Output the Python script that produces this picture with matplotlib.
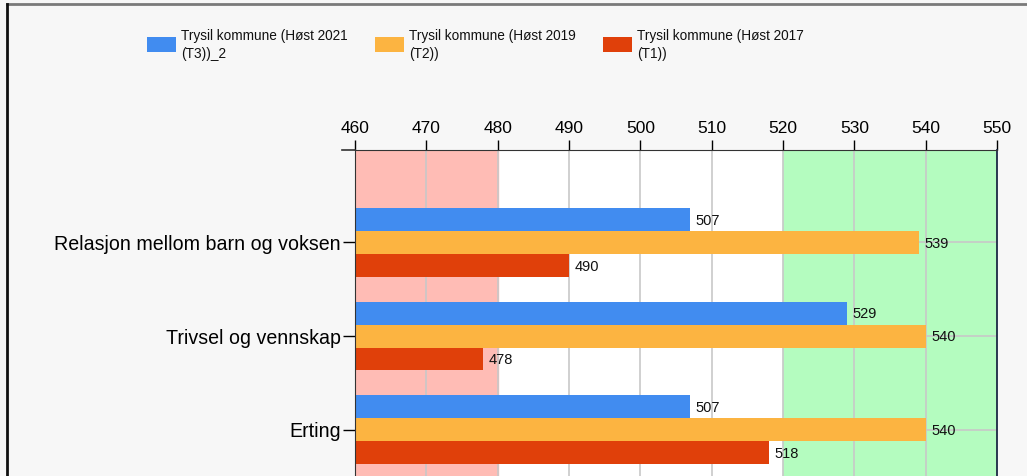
import numpy as np
import matplotlib
matplotlib.use('Agg')
import matplotlib.pyplot as plt
from matplotlib.patches import Rectangle
from matplotlib.lines import Line2D

plt.rcParams['font.family'] = ['Liberation Sans', 'DejaVu Sans']

categories = ["Relasjon mellom barn og voksen", "Trivsel og vennskap", "Erting"]
series_names = ["Trysil kommune (Høst 2021\n(T3))_2",
                "Trysil kommune (Høst 2019\n(T2))",
                "Trysil kommune (Høst 2017\n(T1))"]
t3_2021 = [507, 529, 507]
t2_2019 = [539, 540, 540]
t1_2017 = [490, 478, 518]
colors = ['#418cf0', '#fcb441', '#e0400a']
x_ticks = [460, 470, 480, 490, 500, 510, 520, 530, 540, 550]

W, H = 1027, 476
fig = plt.figure(figsize=(W / 100, H / 100), dpi=100)
fig.patch.set_facecolor('#f7f7f7')

# axes placed in pixels (bottom runs off the figure, like the cropped original)
left, right, top, bottom = 355, 997, 150, 486
ax = fig.add_axes([left / W, (H - bottom) / H, (right - left) / W, (bottom - top) / H])
ax.set_facecolor('white')

# low / high zones
ax.axvspan(460, 480, color='#ffbcb5', zorder=0)
ax.axvspan(520, 550, color='#b4fcbf', zorder=0)

ypos = np.arange(len(categories))
h = 0.245
for i, (vals, c) in enumerate(zip([t3_2021, t2_2019, t1_2017], colors)):
    bars = ax.barh(ypos + (i - 1) * h, np.array(vals) - 460, left=460, height=h,
                   color=c, zorder=2)
    for b, v in zip(bars, vals):
        ax.annotate(str(v), (v, b.get_y() + b.get_height() / 2),
                    xytext=(4, -1), textcoords='offset points',
                    va='center', ha='left', fontsize=10.5, color='#111111', zorder=3)

ax.set_xlim(460, 550)
ax.set_ylim(2.6, -0.985)
ax.set_xticks(x_ticks)
ax.set_yticks(ypos)
ax.set_yticklabels(categories)
ax.xaxis.tick_top()
ax.grid(True, color='#c8c8c8', linewidth=1.2, zorder=1)
ax.set_axisbelow(True)
ax.tick_params(axis='x', direction='out', length=7, width=1, labelsize=12.5, pad=3)
ax.tick_params(axis='y', direction='out', length=9, width=1, labelsize=14.1, pad=1)
for s in ['top', 'left']:
    ax.spines[s].set_color('#333333')
ax.spines['right'].set_color('#1a2a44')
ax.spines['right'].set_linewidth(1.3)
ax.spines['bottom'].set_visible(False)
# short stub of the axis line left of the plot corner
ax.plot([-0.02, 0], [1, 1], transform=ax.transAxes, color='#333333', lw=1.2, clip_on=False)

# legend, laid out by hand in pixel positions
for i, (name, c) in enumerate(zip(series_names, colors)):
    x0 = 147 + 228 * i
    fig.add_artist(Rectangle((x0 / W, 1 - 52 / H), 29 / W, 15 / H,
                             transform=fig.transFigure, facecolor=c, edgecolor='none'))
    fig.text((x0 + 34) / W, 1 - 45 / H, name, fontsize=9.8, va='center', ha='left',
             linespacing=1.3, color='#111111')

# outer frame
fig.add_artist(Line2D([7 / W, 1], [1 - 4 / H, 1 - 4 / H], color='#7a7a7a', lw=2))
fig.add_artist(Line2D([7 / W, 7 / W], [0, 1 - 4 / H], color='#111111', lw=2))

fig.savefig('out.png', dpi=100, facecolor=fig.get_facecolor())
